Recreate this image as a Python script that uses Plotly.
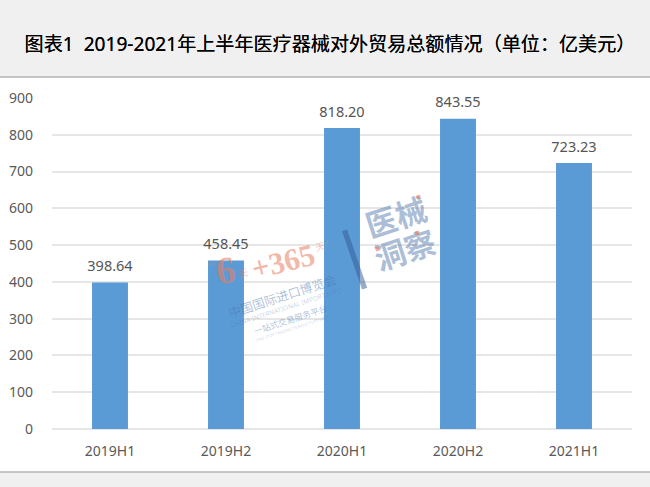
import plotly.graph_objects as go

# chart data
periods = ["2019H1", "2019H2", "2020H1", "2020H2", "2021H1"]
totals = [398.64, 458.45, 818.20, 843.55, 723.23]
total_labels = ["398.64", "458.45", "818.20", "843.55", "723.23"]
y_ticks = [0, 100, 200, 300, 400, 500, 600, 700, 800, 900]

title_text = "图表1\u00a0\u00a02019-2021年上半年医疗器械对外贸易总额情况（单位：亿美元）"
FONT = "Noto Sans, Noto Sans CJK SC"
W, H = 650, 487
L, R, T, B = 52, 18, 98, 58
plot_w = W - L - R
plot_h = H - T - B


def px_x(x):
    return (x - L) / plot_w


def px_y(y):
    return (H - B - y) / plot_h


fig = go.Figure()
fig.add_trace(go.Bar(
    x=periods, y=totals,
    marker=dict(color="#5b9bd5", line=dict(width=0)), width=0.31,
))
# value labels, lifted above the bars by an invisible marker
fig.add_trace(go.Scatter(
    x=periods, y=totals, text=total_labels, mode="markers+text", textposition="top center",
    marker=dict(size=11, opacity=0), textfont=dict(size=14.5, color="#555555"), cliponaxis=False,
))

# white chart card on the grey page, with darker rules at its edges
fig.add_shape(type="rect", xref="paper", yref="paper", layer="below",
              x0=px_x(0), x1=px_x(W), y0=px_y(472), y1=px_y(77),
              fillcolor="white", line=dict(width=0))
for edge in (77, 472):
    fig.add_shape(type="line", xref="paper", yref="paper", layer="below",
                  x0=px_x(0), x1=px_x(W), y0=px_y(edge), y1=px_y(edge),
                  line=dict(color="#b4b4b4", width=1.5))

# watermark
ORANGE = "rgba(232,125,95,%s)"
BLUE = "rgba(70,115,175,%s)"
SLATE = "rgba(90,125,175,0.5)"
marks = [
    ("“", 211, 266, 14, ORANGE % 0.45, -14, "Liberation Serif", "normal"),
    ("6", 225, 270, 38, ORANGE % 0.6, -8, "Liberation Serif", "bold"),
    ("天", 243, 273, 10, ORANGE % 0.45, -14, FONT, "normal"),
    ("+365", 283, 261, 31, ORANGE % 0.55, -14, "Liberation Serif", "bold"),
    ("天”", 322, 246, 10, ORANGE % 0.4, -14, FONT, "normal"),
    ("中国国际进口博览会", 282, 296, 12.5, BLUE % 0.45, -18, FONT, "normal"),
    ("CHINA INTERNATIONAL IMPORT EXPO", 286, 307, 6.5, BLUE % 0.32, -18, FONT, "normal"),
    ("一站式交易服务平台", 290, 319, 8.5, BLUE % 0.45, -18, FONT, "normal"),
    ("ONE-STOP TRADING SERVICE PLATFORM", 292, 328, 4, BLUE % 0.3, -18, FONT, "normal"),
    ("|", 352, 254, 66, "rgba(50,90,150,0.5)", -19, "Liberation Sans", "normal"),
    ("医械", 396, 217, 31, SLATE, -18, FONT, "bold"),
    ("洞察", 405, 250, 31, SLATE, -18, FONT, "bold"),
    ("■", 418, 197, 5, ORANGE % 0.6, -18, FONT, "normal"),
    ("■", 417, 233, 5, ORANGE % 0.6, -18, FONT, "normal"),
    ("■", 377, 249, 5, ORANGE % 0.6, -18, FONT, "normal"),
]
for text, x, y, size, color, angle, family, weight in marks:
    fig.add_annotation(text=text, xref="paper", yref="paper", x=px_x(x), y=px_y(y),
                       xanchor="center", yanchor="middle", showarrow=False,
                       textangle=angle, font=dict(family=family, size=size, color=color, weight=weight))

fig.update_layout(
    width=W, height=H, margin=dict(l=L, r=R, t=T, b=B, pad=0),
    paper_bgcolor="#f0f0f0", plot_bgcolor="rgba(0,0,0,0)",
    font=dict(family=FONT, color="#595959"), showlegend=False,
    title=dict(text=title_text, x=330 / W, xanchor="center", xref="container", y=1 - 44 / H, yanchor="middle",
               automargin=False,
               font=dict(family=FONT, size=19.1, color="#000000", shadow="0 0 0.6px rgba(0,0,0,0.9)")),
)
fig.update_xaxes(range=[-0.5, 4.5], automargin=False, showgrid=False, showline=False, ticks="", ticklabelstandoff=12,
                 tickfont=dict(size=14, color="#595959"))
fig.update_yaxes(range=[0, 900], automargin=False, tickvals=y_ticks, showgrid=True, gridcolor="#e6e6e6", gridwidth=1.5,
                 zeroline=True, zerolinecolor="#e6e6e6", zerolinewidth=1.5, ticks="", ticklabelstandoff=18,
                 tickfont=dict(size=14, color="#595959"))

# the page's default body margin would shift the chart by 8px
fig.write_html("out.html", post_script="document.body.style.margin='0';",
               config={"displayModeBar": False})
